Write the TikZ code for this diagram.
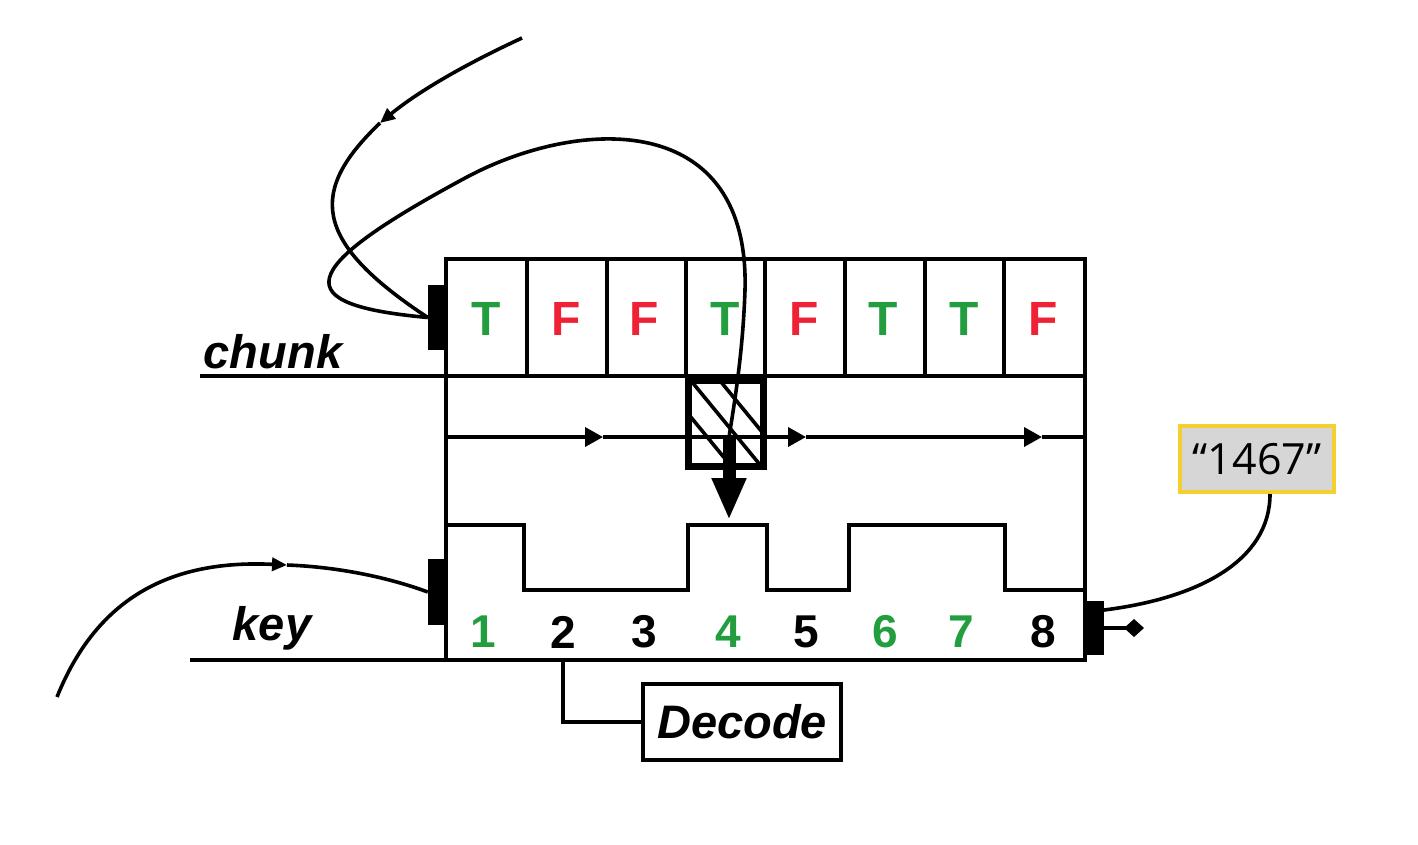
\documentclass[tikz,border=0pt]{standalone}
\usepackage{fontspec}
\setmainfont{Liberation Sans}
\newfontfamily\valfont{Open Sans}
\usepackage{xcolor}
\usetikzlibrary{arrows.meta,calc}
\definecolor{bitgreen}{RGB}{34,158,62}
\definecolor{bitred}{RGB}{238,34,52}
\definecolor{valgray}{RGB}{214,214,214}
\definecolor{valyellow}{RGB}{243,208,46}
\tikzset{
	flow/.style={line width=3.6pt},
	bitT/.style={text=bitgreen, font=\fontsize{48}{50}\selectfont\bfseries, inner sep=0pt},
	bitF/.style={text=bitred, font=\fontsize{48}{50}\selectfont\bfseries, inner sep=0pt},
	idx/.style={font=\fontsize{46}{48}\selectfont\bfseries, inner sep=0pt},
	lbl/.style={font=\fontsize{47}{50}\selectfont\bfseries\itshape, inner sep=0pt},
	tab/.style={fill=black, draw=none, inner sep=0pt, minimum width=18pt, minimum height=65pt}
}

\begin{document}
\begin{tikzpicture}[x=1pt,y=-1pt]
    \useasboundingbox (0,0) rectangle (1418,844);
    % frame and cells
    \draw[flow] (446,259) rectangle (1085,660);
    \draw[flow] (527,259) -- (527,376);
    \draw[flow] (607,259) -- (607,376);
    \draw[flow] (686,259) -- (686,376);
    \draw[flow] (765,259) -- (765,376);
    \draw[flow] (845,259) -- (845,376);
    \draw[flow] (925,259) -- (925,376);
    \draw[flow] (1004,259) -- (1004,376);
    \draw[flow] (200,376) -- (1085,376);
    \draw[flow] (190,660) -- (446,660);
    \node[lbl,anchor=base] (chunklbl) at (273,368) {chunk};
    \node[lbl,anchor=base] (keylbl) at (272,640) {key};
    \node[bitT] (b1) at (486,319) {T};
    \node[bitF] (b2) at (566,319) {F};
    \node[bitF] (b3) at (644,319) {F};
    \node[bitT] (b4) at (725,319) {T};
    \node[bitF] (b5) at (804,319) {F};
    \node[bitT] (b6) at (883,319) {T};
    \node[bitT] (b7) at (964,319) {T};
    \node[bitF] (b8) at (1043,319) {F};
    % signal
    \draw[flow] (446,525) -- (524,525) -- (524,590) -- (688,590) -- (688,525) -- (767,525)
        -- (767,590) -- (849,590) -- (849,525) -- (1005,525) -- (1005,590) -- (1085,590);
    \node[idx,text=bitgreen] (n1) at (483,632) {1};
    \node[idx] (n2) at (563,632) {2};
    \node[idx] (n3) at (644,632) {3};
    \node[idx,text=bitgreen] (n4) at (728,632) {4};
    \node[idx] (n5) at (806,632) {5};
    \node[idx,text=bitgreen] (n6) at (885,632) {6};
    \node[idx,text=bitgreen] (n7) at (961,632) {7};
    \node[idx] (n8) at (1043,632) {8};
    % scan line
    \coordinate (m0) at (446,437);
    \coordinate (m1) at (603,437);
    \coordinate (m2) at (806,437);
    \coordinate (m3) at (1042,437);
    \coordinate (m4) at (1085,437);
    \draw[flow,-{Triangle[length=18pt,width=19pt]}] (m0) -- (m1);
    \draw[flow,-{Triangle[length=18pt,width=19pt]}] (m1) -- (m2);
    \draw[flow,-{Triangle[length=18pt,width=19pt]}] (m2) -- (m3);
    \draw[flow] (m3) -- (m4);
    % selected cell
    \begin{scope}
        \clip (688,380) rectangle (764,467);
        \draw[flow] (653,371) -- (763,505);
        \draw[flow] (683,371) -- (793,505);
        \draw[flow] (712,371) -- (822,505);
    \end{scope}
    \node[draw,line width=7.5pt,inner sep=0pt,minimum width=75pt,minimum height=86pt] (sel) at (726,423.5) {};
    % ports
    \node[tab] (chunktab) at (437,317.5) {};
    \node[tab,minimum height=66pt] (keytab) at (437,592) {};
    \node[tab,minimum width=17pt,minimum height=54pt] (outtab) at (1095.5,628) {};
    \coordinate (chunksrc) at (522,38);
    \coordinate (chunkmid) at (380,123);
    \coordinate (keysrc) at (57,697);
    \coordinate (keymid) at (287,565);
    \coordinate (probe) at (729,437);
    \coordinate (probetip) at (729,520);
    \coordinate (outtop) at (1104,610);
    \coordinate (outpin) at (1144,628);
    \coordinate (tap) at (563,660);
    \draw[flow,-{Triangle[length=15pt,width=13pt]}] (chunksrc) .. controls (470,62) and (420,90) .. (chunkmid);
    \draw[flow] (chunkmid) .. controls (310,190) and (310,240) .. (chunktab.west);
    \draw[flow] (chunktab.west) .. controls (290,305) and (290,272) .. (467,177)
        .. controls (580,117) and (750,110) .. (745,290)
        .. controls (743,350) and (735,400) .. (probe);
    \draw[line width=13pt,-{Triangle[length=42pt,width=32pt]}] (probe) -- (probetip);
    \draw[flow,-{Triangle[length=15pt,width=13pt]}] (keysrc) .. controls (100,590) and (180,560) .. (keymid);
    \draw[flow] (keymid) .. controls (340,567) and (390,578) .. (keytab.west);
    % output
    \node[draw=valyellow,fill=valgray,line width=4pt,inner sep=0pt,minimum width=154pt,minimum height=66pt,
        font=\valfont\fontsize{43}{45}\selectfont] (result) at (1257,459) {“1467”};
    \draw[flow] (outtop) .. controls (1200,598) and (1270,560) .. ([xshift=13pt]result.south);
    \draw[flow,-{Diamond[length=20pt,width=18pt]}] (outtab.east) -- (outpin);
    % decode
    \node[draw,line width=4.5pt,inner sep=0pt,minimum width=198pt,minimum height=76pt,lbl] (decode) at (742,722) {Decode};
    \draw[line width=4.5pt] (tap) |- (decode.west);
\end{tikzpicture}
\end{document}
